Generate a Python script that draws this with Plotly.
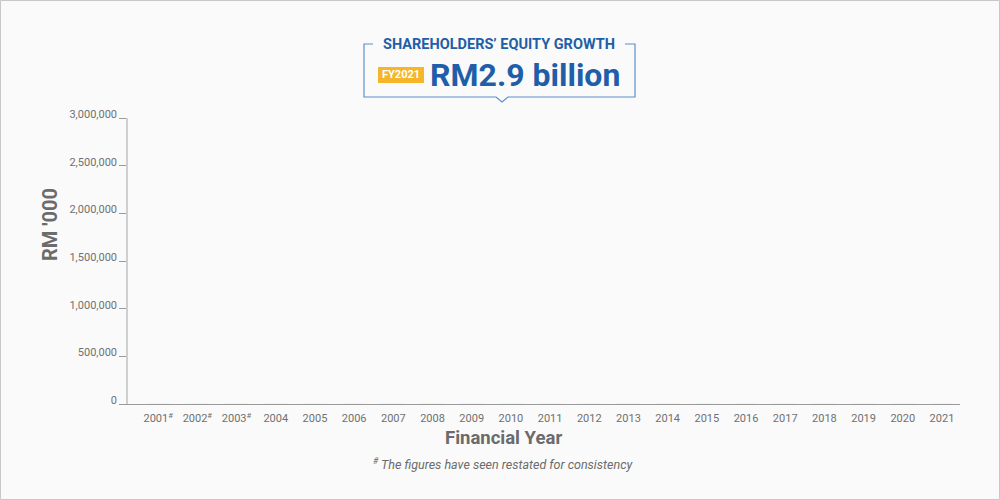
import plotly.graph_objects as go

# ---- data ----
years = ["2001<sup>#</sup>", "2002<sup>#</sup>", "2003<sup>#</sup>", "2004", "2005", "2006", "2007",
         "2008", "2009", "2010", "2011", "2012", "2013", "2014", "2015", "2016", "2017",
         "2018", "2019", "2020", "2021"]
equity = [0] * 21  # bars appear at zero height in the reference
y_ticks = [0, 500000, 1000000, 1500000, 2000000, 2500000, 3000000]
header_title = "SHAREHOLDERS’ EQUITY GROWTH"
header_value = "RM2.9 billion"
header_badge = "FY2021"

W, H = 1000, 500
L, R, T, B = 128, 40, 118, 96
PW, PH = W - L - R, H - T - B


def px(x):
    return (x - L) / PW


def py(y):
    return (H - B - y) / PH


BLUE = "#1f5ea8"
LBLUE = "#5a8fcc"
GREY = "#6b6b6b"
BG = "#fafafa"

fig = go.Figure()
fig.add_trace(go.Bar(x=list(range(len(years))), y=equity, marker_color="#cfe0f3",
                     width=0.6, hoverinfo="skip"))

fig.update_layout(
    width=W, height=H,
    margin=dict(l=L, r=R, t=T, b=B),
    paper_bgcolor=BG, plot_bgcolor=BG,
    font=dict(family="Roboto", color=GREY),
    showlegend=False,
    xaxis=dict(
        range=[-0.77, 20.46], tickmode="array", tickvals=list(range(len(years))),
        ticktext=years, showgrid=False, zeroline=False, showline=True,
        linecolor="#9a9a9a", linewidth=1, ticks="", tickfont=dict(size=11, color="#707070"),
        ticklabelstandoff=4, fixedrange=True,
    ),
    yaxis=dict(
        range=[0, 3000000], tickmode="array", tickvals=y_ticks,
        ticktext=[f"{v:,}" for v in y_ticks], showgrid=False, zeroline=False,
        showline=True, linecolor="#cfcfcf", linewidth=1.5, ticks="outside",
        ticklen=7, tickcolor="#9a9a9a", tickfont=dict(size=11, color="#707070"),
        ticklabelshift=-4, fixedrange=True,
    ),
)

shapes = []
# outer border of the figure
shapes.append(dict(type="rect", xref="paper", yref="paper", x0=px(0.5), x1=px(W - 0.5),
                   y0=py(0.5), y1=py(H - 0.5), line=dict(color="#c8c8c8", width=1)))
# header box with pointer
box_l, box_r, box_t, box_b = 364, 635, 44, 97
path = (f"M {px(373)},{py(box_t)} L {px(box_l)},{py(box_t)} L {px(box_l)},{py(box_b)} "
        f"L {px(496)},{py(box_b)} L {px(502)},{py(102)} L {px(508)},{py(box_b)} "
        f"L {px(box_r)},{py(box_b)} L {px(box_r)},{py(box_t)} L {px(625)},{py(box_t)}")
shapes.append(dict(type="path", xref="paper", yref="paper", path=path,
                   line=dict(color=LBLUE, width=1.2)))
# badge
shapes.append(dict(type="rect", xref="paper", yref="paper", x0=px(378), x1=px(424),
                   y0=py(83), y1=py(67), fillcolor="#f5b629", line=dict(width=0)))
fig.update_layout(shapes=shapes)

ann = []
ann.append(dict(xref="paper", yref="paper", x=px(499), y=py(44), text=f"<b>{header_title}</b>",
                showarrow=False, font=dict(size=14.5, color=BLUE, family="Roboto"),
                xanchor="center", yanchor="middle"))
ann.append(dict(xref="paper", yref="paper", x=px(401), y=py(75), text=f"<b>{header_badge}</b>",
                showarrow=False, font=dict(size=11, color="white", family="Roboto"),
                xanchor="center", yanchor="middle"))
ann.append(dict(xref="paper", yref="paper", x=px(428), y=py(75), text=f"<b>{header_value}</b>",
                showarrow=False, font=dict(size=32, color=BLUE, family="Roboto"),
                xanchor="left", yanchor="middle"))
ann.append(dict(xref="paper", yref="paper", x=px(50), y=py(225), text="<b>RM '000</b>",
                textangle=-90, showarrow=False, font=dict(size=20, color=GREY, family="Roboto"),
                xanchor="center", yanchor="middle"))
ann.append(dict(xref="paper", yref="paper", x=px(503), y=py(438), text="<b>Financial Year</b>",
                showarrow=False, font=dict(size=18.5, color=GREY, family="Roboto"),
                xanchor="center", yanchor="middle"))
ann.append(dict(xref="paper", yref="paper", x=px(503), y=py(464),
                text="<i><sup>#</sup> The figures have seen restated for consistency</i>",
                showarrow=False, font=dict(size=12.5, color=GREY, family="Roboto"),
                xanchor="center", yanchor="middle"))
fig.update_layout(annotations=ann)

fig.write_html("out.html", config={"displayModeBar": False},
               post_script="document.body.style.margin='0';")
